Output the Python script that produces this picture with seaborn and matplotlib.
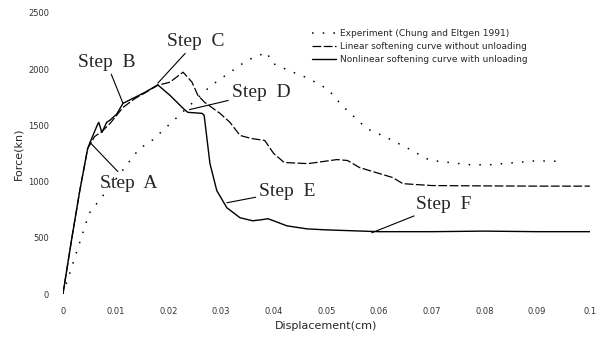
import matplotlib
matplotlib.use("Agg")
import matplotlib.pyplot as plt
import pandas as pd
import seaborn as sns

# Courbe expérimentale (pointillés)
x_exp = [0, 0.005, 0.0105, 0.0146, 0.0163, 0.0207, 0.028, 0.035, 0.0387, 0.0397,
         0.0427, 0.0465, 0.0503, 0.0529, 0.0577, 0.0611, 0.0653, 0.0696, 0.0772,
         0.081, 0.0898, 0.095]
y_exp = [0, 720, 1050, 1300, 1340, 1530, 1850, 2080, 2150, 2054,
         1991, 1920, 1821, 1680, 1470, 1400, 1300, 1190, 1150,
         1150, 1185, 1180]

# Adoucissement linéaire sans déchargement (tirets)
x_lin = [0, 0.0017, 0.0032, 0.0047, 0.006, 0.0075, 0.009, 0.0114, 0.0137, 0.0156,
         0.018, 0.0203, 0.0228, 0.0245, 0.0256, 0.0269, 0.0298, 0.0317, 0.0336,
         0.0357, 0.0383, 0.040, 0.042, 0.0465, 0.052, 0.054, 0.0563, 0.0626,
         0.0645, 0.07, 0.08, 0.09, 0.1]
y_lin = [0, 500, 920, 1295, 1400, 1450, 1520, 1660, 1740, 1790,
         1857, 1884, 1973, 1884, 1768, 1705, 1607, 1527, 1411,
         1384, 1366, 1250, 1170, 1160, 1196, 1188, 1125, 1036,
         982, 965, 962, 960, 960]

# Adoucissement non linéaire avec déchargement (trait plein)
x_nl = [0, 0.0017, 0.0032, 0.0047, 0.0057, 0.0065, 0.0068, 0.0074, 0.0083, 0.0089,
        0.0102, 0.0114, 0.0137, 0.0156, 0.018, 0.0203, 0.0228, 0.0237, 0.0264,
        0.0268, 0.0279, 0.0292, 0.0311, 0.0336, 0.036, 0.0375, 0.0389, 0.0398,
        0.0425, 0.0463, 0.050, 0.06, 0.07, 0.08, 0.09, 0.1]
y_nl = [0, 500, 920, 1295, 1411, 1500, 1527, 1437, 1527, 1545,
        1600, 1696, 1750, 1795, 1860, 1768, 1652, 1616, 1607,
        1590, 1161, 920, 768, 679, 652, 660, 670, 655,
        607, 580, 571, 555, 555, 560, 555, 555]

labels = ["Experiment (Chung and Eltgen 1991)",
          "Linear softening curve without unloading",
          "Nonlinear softening curve with unloading"]

x_ticks = [0, 0.01, 0.02, 0.03, 0.04, 0.05, 0.06, 0.07, 0.08, 0.09, 0.1]
x_tick_labels = ["0", "0.01", "0.02", "0.03", "0.04", "0.05", "0.06",
                 "0.07", "0.08", "0.09", "0.1"]
y_ticks = [0, 500, 1000, 1500, 2000, 2500]

# Étiquettes des étapes : (texte, point visé, position du texte)
steps = [
    ("Step  A", (0.0051, 1350), (0.0071, 985)),
    ("Step  B", (0.0114, 1696), (0.0028, 2060)),
    ("Step  C", (0.0180, 1875), (0.0198, 2245)),
    ("Step  D", (0.0240, 1640), (0.0320, 1790)),
    ("Step  E", (0.0311, 812), (0.0372, 915)),
    ("Step  F", (0.0586, 545), (0.0670, 800)),
]

sns.set_style("white")
plt.rcParams['font.family'] = ['DejaVu Sans']

fig = plt.figure(figsize=(6.05, 3.4), dpi=100)
ax = fig.add_axes([0.104, 0.135, 0.871, 0.827])

sns.lineplot(x=x_exp, y=y_exp, ax=ax, sort=False, color="black", lw=1.1,
             linestyle=(0, (1, 6)), label=labels[0])
sns.lineplot(x=x_lin, y=y_lin, ax=ax, sort=False, color="black", lw=0.9,
             linestyle=(0, (7, 2)), label=labels[1])
sns.lineplot(x=x_nl, y=y_nl, ax=ax, sort=False, color="black", lw=1.0,
             label=labels[2])

for text, xy, xytext in steps:
    ax.annotate(text, xy=xy, xytext=xytext, textcoords="data",
                fontsize=14, family="Liberation Serif", va="center", ha="left",
                arrowprops=dict(arrowstyle="-", color="black", lw=0.8,
                                shrinkA=0, shrinkB=0))

ax.set_xlim(0, 0.1)
ax.set_ylim(0, 2500)
ax.set_xticks(x_ticks)
ax.set_xticklabels(x_tick_labels)
ax.set_yticks(y_ticks)
ax.tick_params(axis="both", length=0, labelsize=6, colors="#333333")
ax.tick_params(axis="x", pad=9)
ax.tick_params(axis="y", pad=10)
sns.despine(ax=ax, left=True, bottom=True)

ax.set_xlabel("Displacement(cm)", fontsize=8, labelpad=4)
ax.set_ylabel("Force(kn)", fontsize=8, labelpad=3)

leg = ax.legend(loc="upper left", bbox_to_anchor=(0.465, 0.96), frameon=False,
                fontsize=6.5, handlelength=2.6, labelspacing=0.45,
                borderpad=0, handletextpad=0.5)

fig.savefig("out.png", dpi=100)
